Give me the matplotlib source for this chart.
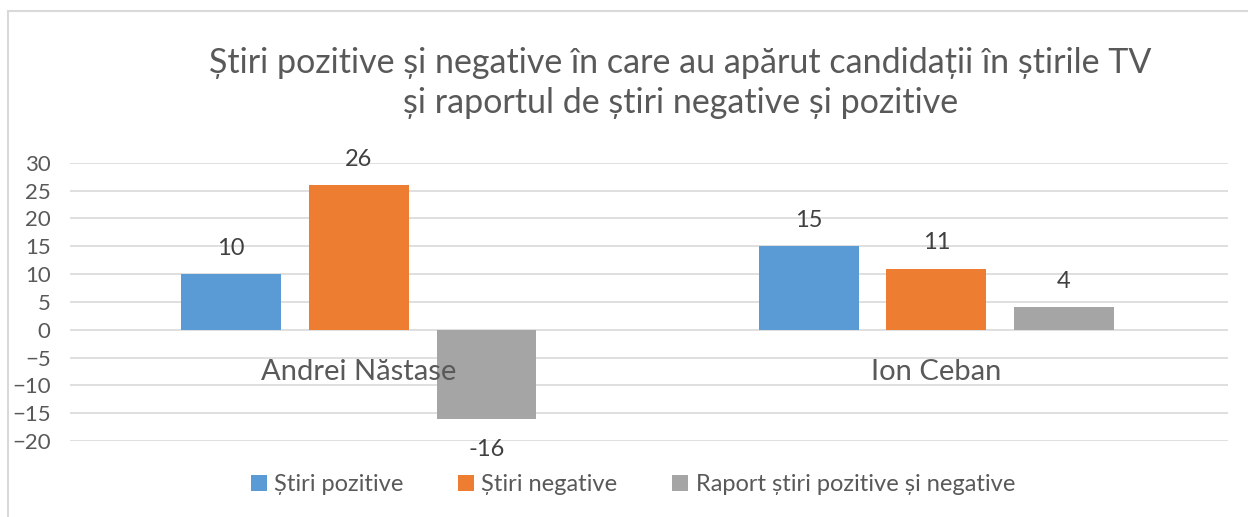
import matplotlib.pyplot as plt
import numpy as np
from matplotlib.patches import Rectangle

# candidates and the three series shown per candidate
categories = ["Andrei Năstase", "Ion Ceban"]
stiri_pozitive = [10, 15]
stiri_negative = [26, 11]
raport = [-16, 4]
series_names = ["Știri pozitive", "Știri negative", "Raport știri pozitive și negative"]
colors = ["#5B9BD5", "#ED7D31", "#A5A5A5"]
yticks = [30, 25, 20, 15, 10, 5, 0, -5, -10, -15, -20]

plt.rcParams['font.family'] = ['Lato', 'DejaVu Sans']
text_color = "#595959"

fig = plt.figure(figsize=(12.48, 5.17), dpi=100)
ax = fig.add_axes([0.0561, 0.147, 0.9279, 0.538])

# outer chart border (top and left only are visible in the reference)
fig.patches.append(Rectangle((8 / 1248, -0.1), 1.2, 1 - 11 / 517 + 0.1,
                             transform=fig.transFigure, fill=False,
                             edgecolor="#D9D9D9", linewidth=1.5, zorder=0))

x = np.arange(len(categories))
width = 0.1727
step = 0.2211
all_series = [stiri_pozitive, stiri_negative, raport]

for k, (vals, name, col) in enumerate(zip(all_series, series_names, colors)):
    pos = x + (k - 1) * step
    ax.bar(pos, vals, width, color=col, label=name, zorder=3)
    for p, v in zip(pos, vals):
        off = 4.6 if v >= 0 else -5.6
        ax.text(p, v + off, str(v), ha="center", va="center",
                fontsize=17, color="#404040")

for i, name in enumerate(categories):
    ax.text(i, -7.6, name, ha="center", va="center", fontsize=21, color=text_color)

ax.set_xlim(-0.5, 1.505)
ax.set_ylim(-20, 30)
ax.set_yticks(yticks)
ax.set_xticks([])
ax.tick_params(axis="y", length=0, labelsize=16, labelcolor=text_color, pad=14)
ax.grid(axis="y", color="#D9D9D9", linewidth=1.2, zorder=0)
for s in ax.spines.values():
    s.set_visible(False)

fig.text(0.545, 0.84, "Știri pozitive și negative în care au apărut candidații în știrile TV\n"
         "și raportul de știri negative și pozitive",
         ha="center", va="center", fontsize=24.5, color=text_color, linespacing=1.3)

fig.legend(loc="center", bbox_to_anchor=(0.507, 0.062), ncol=3, frameon=False,
           fontsize=17, handlelength=0.7, handleheight=0.7, handletextpad=0.3,
           columnspacing=2.3, labelcolor=text_color)

fig.savefig("out.png", dpi=100)
